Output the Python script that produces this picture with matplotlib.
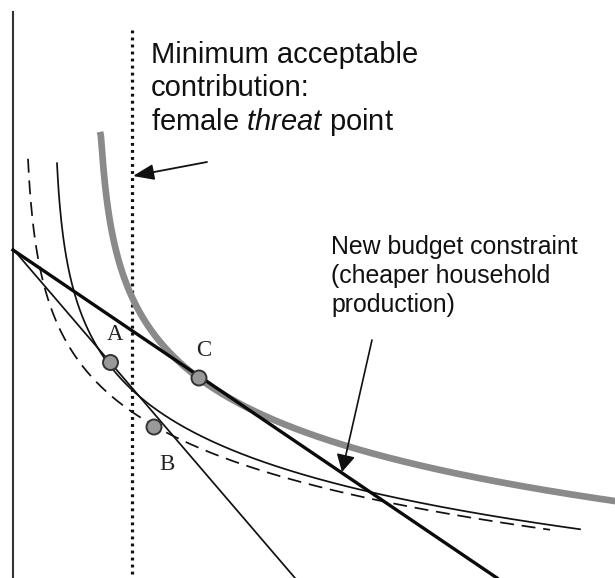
import numpy as np
import matplotlib
matplotlib.use("Agg")
import matplotlib.pyplot as plt
from matplotlib.patches import Circle, FancyArrowPatch

plt.rcParams['font.family'] = ['Liberation Sans', 'DejaVu Sans']
plt.rcParams['mathtext.fontset'] = 'custom'
plt.rcParams['mathtext.rm'] = 'Liberation Sans'
plt.rcParams['mathtext.it'] = 'Liberation Sans:italic'

# diagram drawn in picture units (x right, y down), 615 x 578
AXIS_X = 13
AXIS_Y = [12, 578]
THREAT_X = 132
THREAT_Y = [30, 575]

# budget constraints: two end points each
OLD_BUDGET_X = [13, 295]
OLD_BUDGET_Y = [249, 578]
NEW_BUDGET_X = [13, 497]
NEW_BUDGET_Y = [250, 578]

# indifference curves  y = a + b*ln(x - x0) + c/(x - x0)
# [x0, a, b, c, x_start, x_end]
CURVE_HIGH = [98.8, 29.83, 75.407, 105.92, 100.0, 620.0]    # grey, through C
CURVE_MID = [53.4, 70.01, 73.286, -2.32, 57.0, 580.0]       # thin, through A
CURVE_LOW = [24.4, 64.22, 74.314, -2.30, 28.0, 550.0]       # dashed, through B

POINT_NAMES = ["A", "B", "C"]
POINT_X = [110.5, 154, 199]
POINT_Y = [362.5, 427, 378]
LABEL_X = [115, 167, 204]
LABEL_Y = [335, 465, 351]

THREAT_TEXT = ["Minimum acceptable", "contribution:", "female $\\mathit{threat}$ point"]
BUDGET_TEXT = ["New budget constraint", "(cheaper household", "production)"]


def curve(params):
    x0, a, b, c, xs, xe = params
    x = np.linspace(xs, xe, 600)
    u = x - x0
    return x, a + b * np.log(u) + c / u


fig = plt.figure(figsize=(6.15, 5.78), dpi=100)
ax = fig.add_axes([0, 0, 1, 1])
ax.set_xlim(0, 615)
ax.set_ylim(578, 0)
ax.axis('off')

ax.plot([AXIS_X, AXIS_X], AXIS_Y, color='#333333', lw=1.5)
ax.plot([THREAT_X, THREAT_X], THREAT_Y, color='#111111', lw=2.3, linestyle=(0, (0.9, 1.3)))

x, y = curve(CURVE_HIGH)
ax.plot(x, y, color='#8a8a8a', lw=4.8, solid_capstyle='butt')
x, y = curve(CURVE_MID)
ax.plot(x, y, color='#111111', lw=1.25)
x, y = curve(CURVE_LOW)
ax.plot(x, y, color='#111111', lw=1.25, dashes=(8, 4.5))

ax.plot(OLD_BUDGET_X, OLD_BUDGET_Y, color='#111111', lw=1.25)
ax.plot(NEW_BUDGET_X, NEW_BUDGET_Y, color='#0a0a0a', lw=2.4)

for i in range(len(POINT_NAMES)):
    ax.add_patch(Circle((POINT_X[i], POINT_Y[i]), 7.5, facecolor='#999999',
                        edgecolor='#333333', lw=1.4, zorder=5))
    ax.text(LABEL_X[i], LABEL_Y[i], POINT_NAMES[i], family='Liberation Serif',
            fontsize=16.5, color='#222222', ha='center', va='center')

# text blocks, one baseline per line
for i, line in enumerate(THREAT_TEXT):
    ax.text(151, 63 + 33.3 * i, line, fontsize=21, color='#111111', va='baseline')
for i, line in enumerate(BUDGET_TEXT):
    ax.text(331, 254 + 29 * i, line, fontsize=17.9, color='#111111', va='baseline')

# arrows
ax.add_patch(FancyArrowPatch((207, 162), (133, 176), arrowstyle='-|>,head_length=0.85,head_width=0.32',
                             mutation_scale=15, color='#111111', lw=1.3, shrinkA=0, shrinkB=0))
ax.add_patch(FancyArrowPatch((372, 340), (342, 472), arrowstyle='-|>,head_length=0.7,head_width=0.38',
                             mutation_scale=15, color='#111111', lw=1.2, shrinkA=0, shrinkB=0, zorder=6))

fig.savefig('out.png')
